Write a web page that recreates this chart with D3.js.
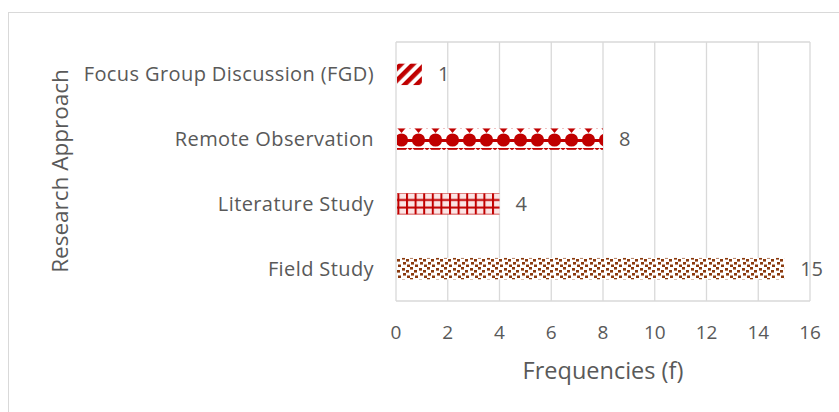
<!DOCTYPE html>
<html>
<head>
<meta charset="utf-8">
<script src="https://cdn.jsdelivr.net/npm/d3@7"></script>
<style>
  body { margin: 0; background: #fff; }
  text { font-family: "Open Sans", "Noto Sans", sans-serif; fill: #595959; }
</style>
</head>
<body>
<div id="chart"></div>
<script>
/** Chart data. */
const CATEGORIES = ["Focus Group Discussion (FGD)", "Remote Observation", "Literature Study", "Field Study"];
const VALUES = [1, 8, 4, 15];
const PATTERNS = ["stripes", "spheres", "grid", "confetti"];
const X_TICKS = [0, 2, 4, 6, 8, 10, 12, 14, 16];

const WIDTH = 839;
const HEIGHT = 412;
const MARGIN = {left: 396, right: 29, top: 42, bottom: 111};
const VIEW_WIDTH = WIDTH - MARGIN.left - MARGIN.right;
const VIEW_HEIGHT = HEIGHT - MARGIN.top - MARGIN.bottom;

const RED = "#c00000";
const BROWN = "#8b3a0e";

const x = d3.scaleLinear()
    .domain([0, 16])
    .range([0, VIEW_WIDTH]);
const y = d3.scaleBand()
    .domain(CATEGORIES)
    .range([0, VIEW_HEIGHT])
    .paddingInner(0.67)
    .paddingOuter(0.335);

const svg = d3.select("#chart").append("svg")
    .attr("width", WIDTH)
    .attr("height", HEIGHT);

// outer chart border
svg.append("rect")
    .attr("x", 8.5).attr("y", 12.5)
    .attr("width", WIDTH + 20).attr("height", HEIGHT + 20)
    .attr("fill", "none")
    .attr("stroke", "#d9d9d9");

/** Fill patterns. */
const defs = svg.append("defs");

const stripes = defs.append("pattern")
    .attr("id", "stripes")
    .attr("patternUnits", "userSpaceOnUse")
    .attr("width", 8.5).attr("height", 8.5)
    .attr("patternTransform", "rotate(45)");
stripes.append("rect").attr("width", 8.5).attr("height", 8.5).attr("fill", "#fff");
stripes.append("rect").attr("x", 0).attr("width", 4.5).attr("height", 8.5).attr("fill", RED);

const spheres = defs.append("pattern")
    .attr("id", "spheres")
    .attr("patternUnits", "userSpaceOnUse")
    .attr("width", 17).attr("height", 22)
    .attr("x", 388).attr("y", 128);
spheres.append("rect").attr("width", 17).attr("height", 22).attr("fill", "#fff");
spheres.append("path")
    .attr("d", "M2.5,0 L14.5,0 L8.5,7 Z")
    .attr("fill", RED);
spheres.append("circle").attr("cx", 8.5).attr("cy", 14).attr("r", 6.6).attr("fill", RED);
spheres.append("rect").attr("x", 0).attr("y", 13).attr("width", 17).attr("height", 3).attr("fill", RED);
spheres.append("path")
    .attr("d", "M0,0 L2.5,0 L0,3 Z M17,0 L14.5,0 L17,3 Z")
    .attr("fill", RED);

const grid = defs.append("pattern")
    .attr("id", "grid")
    .attr("patternUnits", "userSpaceOnUse")
    .attr("width", 8.6).attr("height", 7.5)
    .attr("x", 397).attr("y", 193);
grid.append("rect").attr("width", 8.6).attr("height", 7.5).attr("fill", "#fbe5e5");
grid.append("rect").attr("x", 0).attr("width", 2).attr("height", 7.5).attr("fill", RED);
grid.append("rect").attr("y", 1.5).attr("width", 8.6).attr("height", 2).attr("fill", RED);

const confetti = defs.append("pattern")
    .attr("id", "confetti")
    .attr("patternUnits", "userSpaceOnUse")
    .attr("width", 17).attr("height", 11)
    .attr("x", 396).attr("y", 258);
confetti.append("rect").attr("width", 17).attr("height", 11).attr("fill", "#fff");
[[1, 1], [9, 0], [5, 3], [13, 3], [2, 6], [10, 6], [6, 8.5], [14, 8.5]].forEach(([px, py]) => {
    confetti.append("rect")
        .attr("x", px).attr("y", py)
        .attr("width", 3).attr("height", 2.6)
        .attr("fill", BROWN);
});

const g = svg.append("g")
    .attr("transform", `translate(${MARGIN.left},${MARGIN.top})`);

// vertical gridlines
g.append("g")
    .selectAll("line")
    .data(X_TICKS)
    .join("line")
    .attr("x1", d => x(d)).attr("x2", d => x(d))
    .attr("y1", 0).attr("y2", VIEW_HEIGHT)
    .attr("stroke", "#d9d9d9")
    .attr("stroke-width", 1.3);

// horizontal border lines of plot area
g.append("line")
    .attr("x1", 0).attr("x2", VIEW_WIDTH)
    .attr("y1", 0).attr("y2", 0)
    .attr("stroke", "#d9d9d9").attr("stroke-width", 1.3);
g.append("line")
    .attr("x1", 0).attr("x2", VIEW_WIDTH)
    .attr("y1", VIEW_HEIGHT).attr("y2", VIEW_HEIGHT)
    .attr("stroke", "#d9d9d9").attr("stroke-width", 1.3);

// bars
g.append("g")
    .selectAll("rect")
    .data(CATEGORIES)
    .join("rect")
    .attr("x", x(0) + 1)
    .attr("y", d => y(d))
    .attr("width", (d, i) => x(VALUES[i]) - x(0) - 1)
    .attr("height", y.bandwidth())
    .attr("fill", (d, i) => `url(#${PATTERNS[i]})`);

// value labels
g.append("g")
    .selectAll("text")
    .data(CATEGORIES)
    .join("text")
    .attr("x", (d, i) => x(VALUES[i]) + 16)
    .attr("y", d => y(d) + y.bandwidth() / 2)
    .attr("dy", "0.35em")
    .attr("font-size", 20)
    .text((d, i) => VALUES[i]);

// category labels
g.append("g")
    .selectAll("text")
    .data(CATEGORIES)
    .join("text")
    .attr("x", -22)
    .attr("y", d => y(d) + y.bandwidth() / 2)
    .attr("dy", "0.35em")
    .attr("text-anchor", "end")
    .attr("font-size", 20)
    .attr("letter-spacing", 0.4)
    .text(d => d);

// x tick labels
g.append("g")
    .selectAll("text")
    .data(X_TICKS)
    .join("text")
    .attr("x", d => x(d))
    .attr("y", VIEW_HEIGHT + 31)
    .attr("dy", "0.35em")
    .attr("text-anchor", "middle")
    .attr("font-size", 19)
    .text(d => d);

// axis titles
svg.append("text")
    .attr("x", MARGIN.left + VIEW_WIDTH / 2)
    .attr("y", 371)
    .attr("dy", "0.35em")
    .attr("text-anchor", "middle")
    .attr("font-size", 23.5)
    .text("Frequencies (f)");

svg.append("text")
    .attr("transform", "translate(60,171) rotate(-90)")
    .attr("dy", "0.35em")
    .attr("text-anchor", "middle")
    .attr("font-size", 22.5)
    .text("Research Approach");
</script>
</body>
</html>
